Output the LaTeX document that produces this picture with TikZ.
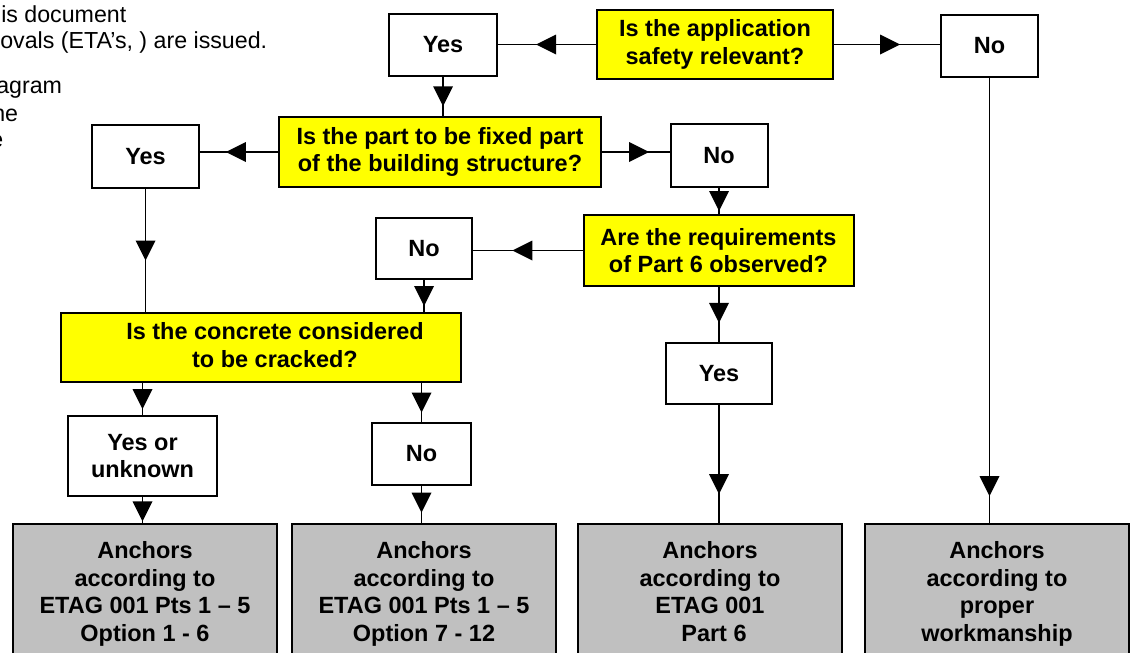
\documentclass[tikz,border=0pt]{standalone}
\usepackage{fontspec}
\setmainfont{Liberation Sans}
\usetikzlibrary{decorations.markings}
\definecolor{qyellow}{RGB}{255,255,0}
\definecolor{agray}{RGB}{192,192,192}
\tikzset{
  sz/.style 2 args={minimum width=#1*0.75pt, minimum height=#2*0.75pt},
  basebox/.style={draw=black, line width=1.5pt, inner sep=0pt, align=center,
    font=\fontsize{17.6pt}{20.8pt}\selectfont\bfseries},
  wbox/.style={basebox, fill=white},
  qbox/.style={basebox, fill=qyellow},
  gbox/.style={basebox, fill=agray},
  conn/.style={line width=1.2pt, postaction={decorate},
    decoration={markings, mark=at position #1 with {\fill[black] (7.5pt,0pt) -- (-7.5pt,7.5pt) -- (-7.5pt,-7.5pt) -- cycle;}}},
  conn/.default=0.5,
  note/.style={anchor=base west, inner sep=0pt, font=\fontsize{17.4pt}{20pt}\selectfont}
}
\begin{document}
\begin{tikzpicture}[x=0.75pt, y=-0.75pt]
\useasboundingbox (0,0) rectangle (1133,653);
\clip (0,0) rectangle (1133,653);
\fill[white] (0,0) rectangle (1133,653);

% partial note text on the left
\node[note] (t1) at (1,22) {is document};
\node[note] (t2) at (0,48) {ovals (ETA’s, ) are issued.};
\node[note] (t3) at (-4,93) {agram};
\node[note] (t4) at (-8,121) {ne};
\node[note] (t5) at (-10,147) {e};

% nodes
\node[wbox, sz={108}{62}] (yes1) at (443,44.5) {Yes};
\node[qbox, sz={236}{69}] (q1) at (715,44.5) {Is the application\\safety relevant?};
\node[wbox, sz={97}{62}] (no1) at (989.5,46) {No};

\node[qbox, sz={322}{70}] (q2) at (440,152) {Is the part to be fixed part\\of the building structure?};
\node[wbox, sz={107}{63}] (yes2) at (145.5,156.5) {Yes};
\node[wbox, sz={97}{63}] (no2) at (719,155.5) {No};

\node[qbox, sz={270}{71}] (q3) at (718.5,250.5) {Are the requirements\\of Part 6 observed?};
\node[wbox, sz={96}{61}] (no3) at (424,248.5) {No};

\node[qbox, sz={400}{69}] (q4) at (261,347.5) {\hspace*{21pt}Is the concrete considered\\\hspace*{21pt}to be cracked?\vphantom{p}};
\node[wbox, sz={149}{80}] (yu) at (142.5,456) {Yes or\\unknown};
\node[wbox, sz={99}{62}] (no4) at (421.5,454) {No};
\node[wbox, sz={106}{61}] (yes3) at (719,373.5) {Yes};

\node[gbox, sz={264}{140}, anchor=north] (b1) at (145,523) {Anchors\\according to\\ETAG 001 Pts 1 – 5\\Option 1 - 6};
\node[gbox, sz={264}{140}, anchor=north] (b2) at (424,523) {Anchors\\according to\\ETAG 001 Pts 1 – 5\\Option 7 - 12};
\node[gbox, sz={264}{140}, anchor=north] (b3) at (710,523) {Anchors\\according to\\ETAG 001\\\hspace*{6pt}Part 6\vphantom{p}};
\node[gbox, sz={264}{140}, anchor=north] (b4) at (997,523) {Anchors\\according to\\proper\\workmanship};

% connectors
\draw[conn=0.51] (q1.west) -- (q1.west -| yes1.east);
\draw[conn=0.53] (q1.east) -- (q1.east -| no1.west);
\draw[conn] (yes1.south) -- (yes1.south |- q2.north);
\draw[conn=0.54] (q2.west) -- (q2.west -| yes2.east);
\draw[conn=0.55] (q2.east) -- (q2.east -| no2.west);
\draw[conn] (no2.south) -- (no2.south |- q3.north);
\draw[conn=0.55] (q3.west) -- (q3.west -| no3.east);
\draw[conn] (no3.south) -- (no3.south |- q4.north);
\draw[conn] (yes2.south) -- (yes2.south |- q4.north);
\draw[conn] (yu.north |- q4.south) -- (yu.north);
\draw[conn] (no4.north |- q4.south) -- (no4.north);
\draw[conn=0.55] (yu.south) -- (yu.south |- b1.north);
\draw[conn=0.45] (no4.south) -- (no4.south |- b2.north);
\draw[conn=0.47] (yes3.north |- q3.south) -- (yes3.north);
\draw[conn=0.67] (yes3.south) -- (yes3.south |- b3.north);
\draw[conn=0.917] (no1.south) -- (no1.south |- b4.north);
\end{tikzpicture}
\end{document}
